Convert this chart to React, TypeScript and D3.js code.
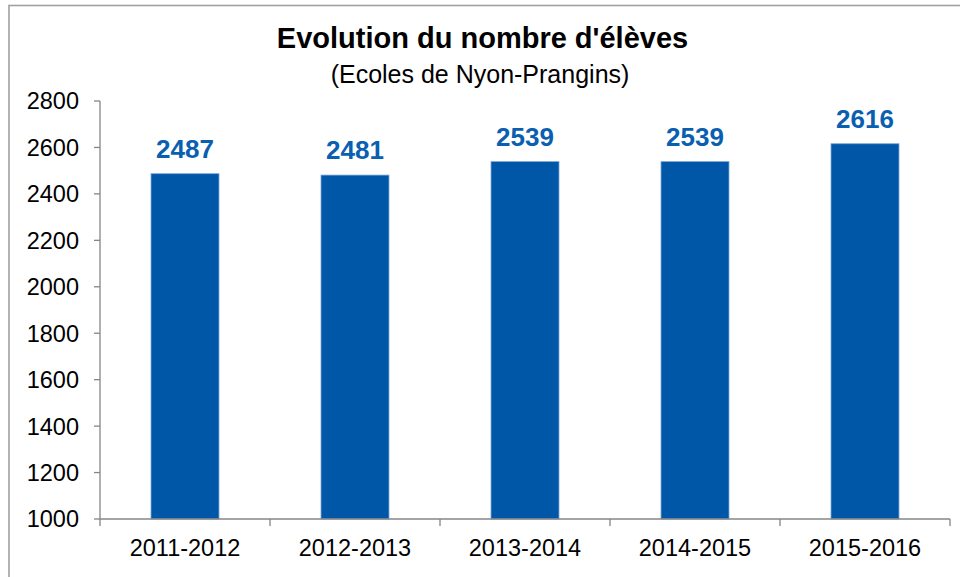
import React from "react";
import * as d3 from "d3";

const categories = ["2011-2012", "2012-2013", "2013-2014", "2014-2015", "2015-2016"];
const values = [2487, 2481, 2539, 2539, 2616];
const yTicks = [1000, 1200, 1400, 1600, 1800, 2000, 2200, 2400, 2600, 2800];
const title = "Evolution du nombre d'élèves";
const subtitle = "(Ecoles de Nyon-Prangins)";

const W = 960;
const H = 577;
const FONT = "'Liberation Sans', Arial, Helvetica, sans-serif";

export default function App() {
  const x = d3.scaleBand<string>().domain(categories).range([100, 950]).paddingInner(0.6).paddingOuter(0.3);
  const band = d3.scaleBand<string>().domain(categories).range([100, 950]);
  const y = d3.scaleLinear().domain([1000, 2800]).range([519, 101]);
  const axisColor = "#868686";
  const blue = "#0057A8";

  return (
    <svg
      width={W}
      height={H}
      style={{ position: "absolute", left: 0, top: 0, display: "block", background: "#fff" }}
      fontFamily={FONT}
    >
      <rect x={9} y={5.5} width={1100} height={1000} fill="#fff" stroke="#a0a0a0" strokeWidth={1.6} />
      <text x={482.5} y={48} textAnchor="middle" fontSize={29} fontWeight="bold" fill="#000">
        {title}
      </text>
      <text x={480} y={83} textAnchor="middle" fontSize={25} fill="#000">
        {subtitle}
      </text>

      {/* y axis */}
      <line x1={100} x2={100} y1={y(2800)} y2={y(1000)} stroke={axisColor} strokeWidth={1.3} />
      {yTicks.map((t) => (
        <g key={t}>
          <line x1={94} x2={100} y1={y(t)} y2={y(t)} stroke={axisColor} strokeWidth={1.3} />
          <text x={79} y={y(t)} dy="0.36em" textAnchor="end" fontSize={23.5} fill="#000">
            {t}
          </text>
        </g>
      ))}

      {/* bars */}
      {categories.map((c, i) => (
        <g key={c}>
          <rect
            x={x(c)!}
            y={y(values[i])}
            width={x.bandwidth()}
            height={y(1000) - y(values[i])}
            fill={blue}
            stroke="#7ea6d8"
            strokeWidth={0.8}
          />
          <text
            x={x(c)! + x.bandwidth() / 2}
            y={y(values[i]) - 16}
            textAnchor="middle"
            fontSize={26}
            fontWeight="bold"
            fill="#0a5fb0"
          >
            {values[i]}
          </text>
        </g>
      ))}

      {/* x axis */}
      <line x1={100} x2={950} y1={y(1000)} y2={y(1000)} stroke={axisColor} strokeWidth={1.3} />
      {[...categories.map((c) => band(c)!), 950].map((p, i) => (
        <line key={i} x1={p} x2={p} y1={y(1000)} y2={y(1000) + 7} stroke={axisColor} strokeWidth={1.3} />
      ))}
      {categories.map((c) => (
        <text key={c} x={band(c)! + band.bandwidth() / 2} y={556} textAnchor="middle" fontSize={23.5} fill="#000">
          {c}
        </text>
      ))}
    </svg>
  );
}
